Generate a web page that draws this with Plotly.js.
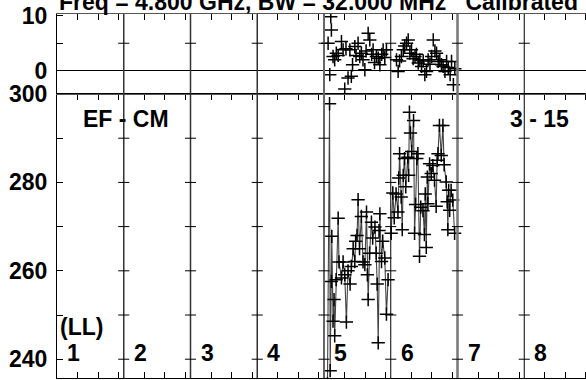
<!DOCTYPE html>
<html><head><meta charset="utf-8">
<script src="https://cdn.plot.ly/plotly-3.0.1.min.js"></script>
<style>
html,body{margin:0;padding:0;overflow:hidden;width:586px;height:380px;background:#fff}
#chart{position:absolute;left:0;top:-20px;width:600px;height:420px}
</style>
</head><body><div id="chart"></div>
<script>
// ---- data ----
const segLabels = ['1','2','3','4','5','6','7','8'];
const titleText = 'Freq = 4.800 GHz, BW = 32.000 MHz\u00a0\u00a0\u00a0Calibrated';
const leftLabel = 'EF - CM';
const rightLabel = '3 - 15';
const polLabel = '(LL)';

// segment 5 (bottom panel)
const t5 = [13.17,13.27,13.30,13.36,13.38,13.44,13.49,13.52,13.59,13.69,13.73,13.85,13.93,14.01,14.09,14.17,14.27,14.33,14.42,14.50,14.54,14.61,14.66,14.73,14.82,14.90,14.99,15.07,15.11,15.15,15.22,15.31,15.37,15.48,15.54,15.59,15.64,15.68,15.72,15.80,15.86,15.96,16.04,16.12];
const v5 = [234.5,297.8,237.4,257.6,267.8,248.6,253.5,245.3,258.0,271.9,262.0,258.4,262.0,259.1,248.4,260.0,257.0,261.0,265.0,262.1,266.7,268.0,276.1,265.0,272.3,262.0,261.4,273.3,259.1,253.5,264.0,271.0,267.4,269.9,264.0,257.0,243.7,269.1,272.9,262.1,266.7,262.9,250.2,258.0];
// segment 6 (bottom panel)
const t6 = [16.27,16.35,16.42,16.51,16.60,16.64,16.68,16.76,16.81,16.86,16.92,16.98,17.08,17.12,17.16,17.21,17.27,17.36,17.41,17.46,17.52,17.57,17.65,17.71,17.82,17.89,17.93,17.98,18.03,18.06,18.14,18.22,18.30,18.38,18.46,18.51,18.55,18.62,18.71,18.79,18.85,18.95,19.00,19.03,19.07,19.12,19.19,19.27,19.36];
const v6 = [268.5,277.6,272.0,277.4,273.3,281.0,286.5,276.7,269.3,281.6,285.4,279.0,285.7,281.6,295.9,291.2,287.0,294.0,268.5,275.0,285.4,286.5,263.3,274.4,273.6,268.2,277.4,265.3,281.2,275.2,284.2,282.0,283.8,280.5,274.6,285.0,286.5,292.9,286.1,292.9,284.0,280.1,275.6,269.3,278.2,273.7,278.2,276.0,268.5];
// residuals (top panel)
const r5t = [13.20,13.28,13.33,13.36,13.44,13.52,13.60,13.69,13.85,13.93,14.01,14.07,14.17,14.26,14.33,14.39,14.50,14.56,14.66,14.74,14.82,14.90,14.99,15.05,15.15,15.23,15.32,15.39,15.46,15.55,15.64,15.72,15.81,15.88,15.96,16.04];
const r5v = [5.0,-0.7,9.8,7.4,2.6,2.0,3.2,2.8,5.3,3.8,-3.3,4.0,-1.3,3.8,-1.0,1.1,4.4,2.8,5.0,2.6,3.2,2.0,0.2,3.6,6.8,5.6,3.0,3.8,1.5,2.6,2.3,1.1,3.0,3.8,2.4,3.8];
const r6t = [16.53,16.61,16.68,16.77,16.86,16.93,17.02,17.10,17.18,17.26,17.34,17.43,17.50,17.59,17.67,17.75,17.83,17.91,17.99,18.07,18.16,18.24,18.32,18.40,18.48,18.56,18.64,18.72,18.80,18.89,18.97,19.05,19.14,19.21,19.30,19.37];
const r6v = [2.0,-0.1,1.8,2.6,3.8,4.5,5.0,5.6,3.2,3.8,2.2,2.6,3.0,1.4,2.0,0.8,1.8,-0.7,-0.1,2.0,1.2,2.6,5.6,3.6,3.2,1.7,2.0,1.1,0.8,-0.1,1.7,0.6,-0.7,1.7,-2.5,0.4];

// ---- layout helpers ----
const segW = 3.25;
const nSeg = segLabels.length;
const F = 'Liberation Sans, Arial, sans-serif';
const bold = (s)=>({family:F, size:s, color:'#000', weight:'bold'});

const xt = [];
for (let i=0;i<nSeg;i++) for (let k=1;k<=3;k++) xt.push(i*segW+k);

const crossMarker = {symbol:'cross-thin-open', size:9.5, color:'#000', line:{color:'#111', width:1.5}};
const traces = [
  {x:t5, y:v5, xaxis:'x', yaxis:'y', mode:'lines+markers', line:{color:'#444', width:1.1}, marker:crossMarker, hoverinfo:'skip'},
  {x:t6, y:v6, xaxis:'x', yaxis:'y', mode:'lines+markers', line:{color:'#444', width:1.1}, marker:crossMarker, hoverinfo:'skip'},
  {x:r5t, y:r5v, xaxis:'x2', yaxis:'y2', mode:'markers', marker:crossMarker, hoverinfo:'skip'},
  {x:r6t, y:r6v, xaxis:'x2', yaxis:'y2', mode:'markers', marker:crossMarker, hoverinfo:'skip'}
];

const shapes = [];
const divStyle = ['#333','#333','#333','#666','#000','#777','#000'];
const divW = [1.5,1.5,1.5,2,1,2.5,1];
const tickHalf = 0.27;
for (let i=1;i<nSeg;i++){
  const d = i*segW;
  shapes.push({type:'line', xref:'x', yref:'paper', x0:d, x1:d, y0:0, y1:1, line:{color:divStyle[i-1], width:divW[i-1]}});
  [240,250,260,270,280,290].forEach(v=>shapes.push({type:'line', xref:'x', yref:'y', x0:d-tickHalf, x1:d+tickHalf, y0:v, y1:v, line:{color:'#000', width:1}}));
  [5].forEach(v=>shapes.push({type:'line', xref:'x2', yref:'y2', x0:d-tickHalf, x1:d+tickHalf, y0:v, y1:v, line:{color:'#000', width:1}}));
}

const annotations = [];
segLabels.forEach((s,i)=>annotations.push({xref:'x', yref:'y', x:i*segW+0.44, y:241.5, text:s, showarrow:false, xanchor:'left', yanchor:'middle', font:bold(23), borderpad:0}));
annotations.push({xref:'x', yref:'y', x:0.1, y:247.4, text:polLabel, showarrow:false, xanchor:'left', yanchor:'middle', font:bold(23), borderpad:0});
annotations.push({xref:'x', yref:'y', x:1.15, y:294.4, text:leftLabel, showarrow:false, xanchor:'left', yanchor:'middle', font:bold(23)});
annotations.push({xref:'x', yref:'y', x:21.96, y:294.4, text:rightLabel, showarrow:false, xanchor:'left', yanchor:'middle', font:bold(23)});
annotations.push({xref:'paper', yref:'paper', x:0, y:1, yshift:-3, text:titleText, showarrow:false, xanchor:'left', yanchor:'bottom', font:bold(23)});

const layout = {
  width:600, height:420,
  margin:{l:57, r:9, t:34, b:22, pad:0},
  paper_bgcolor:'#fff', plot_bgcolor:'#fff',
  showlegend:false,
  xaxis:{domain:[0,1], range:[0,nSeg*segW], anchor:'y', showline:true, linecolor:'#000', linewidth:1, mirror:'ticks',
         tickvals:xt, ticks:'inside', ticklen:6, tickcolor:'#000', showticklabels:false, showgrid:false, zeroline:false},
  xaxis2:{domain:[0,1], range:[0,nSeg*segW], anchor:'y2', matches:'x', side:'top', showline:true, linecolor:'#555', linewidth:1, mirror:true,
         tickvals:xt, ticks:'inside', ticklen:6, tickcolor:'#000', showticklabels:false, showgrid:false, zeroline:false},
  yaxis:{domain:[0,0.7802], range:[235.75,300], anchor:'x', showline:true, linecolor:'#000', linewidth:1,
         tickvals:[240,260,280,300], ticks:'inside', ticklen:6, tickcolor:'#000',
         minor:{tickvals:[250,270,290], ticks:'inside', ticklen:6, tickcolor:'#000'},
         tickfont:bold(23), ticklabelstandoff:4, showgrid:false, zeroline:false},
  yaxis2:{domain:[0.7802,1], range:[-4.2,10.3], anchor:'x2', showline:true, linecolor:'#000', linewidth:1,
         tickvals:[0,10], ticks:'inside', ticklen:6, tickcolor:'#000',
         minor:{tickvals:[5], ticks:'inside', ticklen:6, tickcolor:'#000'},
         tickfont:bold(23), ticklabelstandoff:4, showgrid:false, zeroline:true, zerolinecolor:'#000', zerolinewidth:1},
  shapes:shapes, annotations:annotations
};
Plotly.newPlot('chart', traces, layout, {staticPlot:true});
</script>
</body></html>
